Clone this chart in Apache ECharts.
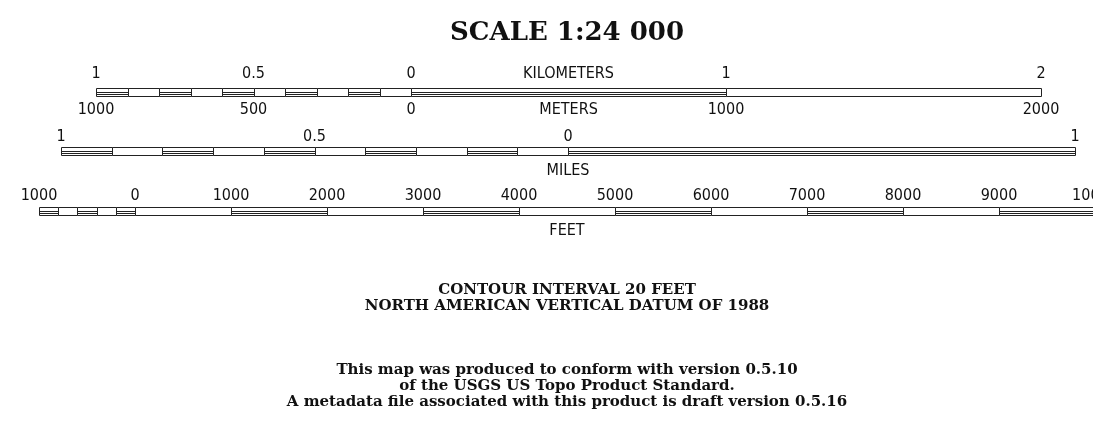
<!DOCTYPE html>
<html>
<head>
<meta charset="utf-8">
<script src="https://cdn.jsdelivr.net/npm/echarts@6/dist/echarts.min.js"></script>
<style>
  html, body { margin: 0; padding: 0; background: #fff; }
  #chart { width: 1093px; height: 446px; }
</style>
</head>
<body>
<div id="chart"></div>
<script>
  // segment boundaries for each bar, in that bar's own unit
  const kmBreaks = [-1, -0.9, -0.8, -0.7, -0.6, -0.5, -0.4, -0.3, -0.2, -0.1, 0, 1, 2]
  const mileBreaks = [-1, -0.9, -0.8, -0.7, -0.6, -0.5, -0.4, -0.3, -0.2, -0.1, 0, 1]
  const feetBreaks = [-1000, -800, -600, -400, -200, 0, 1000, 2000, 3000, 4000, 5000, 6000, 7000, 8000, 9000, 10000]

  // tick labels
  const kmLabels = [-1, -0.5, 0, 1, 2]
  const meterLabels = [-1000, -500, 0, 1000, 2000]
  const mileLabels = [-1, -0.5, 0, 1]
  const feetLabels = [-1000, 0, 1000, 2000, 3000, 4000, 5000, 6000, 7000, 8000, 9000, 10000]

  const titleText = 'SCALE 1:24 000'
  const datumText = 'CONTOUR INTERVAL 20 FEET\nNORTH AMERICAN VERTICAL DATUM OF 1988'
  const noteText = 'This map was produced to conform with version 0.5.10\nof the USGS US Topo Product Standard.\nA metadata file associated with this product is draft version 0.5.16'

  const toSegments = (breaks) => breaks.slice(1).map((end, i) => [breaks[i], end])

  const lineColor = '#222'
  const labelFont = "'Liberation Sans Narrow', 'DejaVu Sans Condensed', sans-serif"
  const serifFont = "'DejaVu Serif', serif"

  const scaleAxis = (grid, pos, min, max, labels, name, gap) => ({
    type: 'value',
    gridIndex: grid,
    position: pos,
    min: min,
    max: max,
    axisLine: { show: false },
    axisTick: { show: false },
    splitLine: { show: false },
    axisLabel: labels ? {
      customValues: labels,
      formatter: (v) => String(Math.abs(v)),
      color: '#111',
      fontFamily: labelFont,
      fontSize: 16,
      margin: gap
    } : { show: false },
    name: name,
    nameLocation: 'middle',
    nameGap: gap,
    nameMoveOverlap: false,
    nameTextStyle: {
      color: '#111',
      fontFamily: labelFont,
      fontSize: 16
    }
  })

  function renderSegment(params, api) {
    const a = api.coord([api.value(0), 1])
    const b = api.coord([api.value(1), 0])
    const x0 = Math.round(a[0]) + 0.5
    const x1 = Math.round(b[0]) + 0.5
    const y0 = Math.round(a[1]) + 0.5
    const y1 = Math.round(b[1]) + 0.5
    const children = [{
      type: 'rect',
      shape: { x: x0, y: y0, width: x1 - x0, height: y1 - y0 },
      style: { fill: '#fff', stroke: lineColor, lineWidth: 1 }
    }]
    // every other segment carries the inner double rule
    if (params.dataIndex % 2 === 0) {
      const ym = Math.round((y0 + y1) / 2) + 0.5
      children.push({
        type: 'line',
        shape: { x1: x0, y1: ym - 1, x2: x1, y2: ym - 1 },
        style: { stroke: lineColor, lineWidth: 1 }
      })
      children.push({
        type: 'line',
        shape: { x1: x0, y1: ym + 1, x2: x1, y2: ym + 1 },
        style: { stroke: lineColor, lineWidth: 1 }
      })
    }
    return { type: 'group', children: children }
  }

  const titleBlock = (text, top, size, lh) => ({
    text: text,
    left: 567,
    top: top,
    padding: 0,
    textAlign: 'center',
    textStyle: {
      color: '#111',
      fontFamily: serifFont,
      fontWeight: 'bold',
      fontSize: size,
      lineHeight: lh
    }
  })

  const option = {
    animation: false,
    backgroundColor: '#fff',
    title: [
      titleBlock(titleText, 19, 26, 28),
      titleBlock(datumText, 282, 15, 16),
      titleBlock(noteText, 362, 15, 16)
    ],
    grid: [
      { left: 96, width: 945, top: 88, height: 8, outerBoundsMode: 'none' },
      { left: 61, width: 1014, top: 147, height: 8, outerBoundsMode: 'none' },
      { left: 39, width: 1056, top: 207, height: 8, outerBoundsMode: 'none' }
    ],
    xAxis: [
      scaleAxis(0, 'top', -1, 2, kmLabels, 'KILOMETERS', 6),
      scaleAxis(0, 'bottom', -1000, 2000, meterLabels, 'METERS', 6),
      scaleAxis(1, 'top', -1, 1, mileLabels, '', 2),
      scaleAxis(1, 'bottom', -1, 1, null, 'MILES', 8),
      scaleAxis(2, 'top', -1000, 10000, feetLabels, '', 3),
      scaleAxis(2, 'bottom', -1000, 10000, null, 'FEET', 8)
    ],
    yAxis: [0, 1, 2].map((g) => ({ type: 'value', gridIndex: g, min: 0, max: 1, show: false })),
    series: [
      { type: 'custom', xAxisIndex: 0, yAxisIndex: 0, renderItem: renderSegment, data: toSegments(kmBreaks), silent: true, clip: false },
      { type: 'custom', xAxisIndex: 2, yAxisIndex: 1, renderItem: renderSegment, data: toSegments(mileBreaks), silent: true, clip: false },
      { type: 'custom', xAxisIndex: 4, yAxisIndex: 2, renderItem: renderSegment, data: toSegments(feetBreaks), silent: true, clip: false }
    ]
  }

  const chart = echarts.init(document.getElementById('chart'))
  chart.setOption(option)
</script>
</body>
</html>
